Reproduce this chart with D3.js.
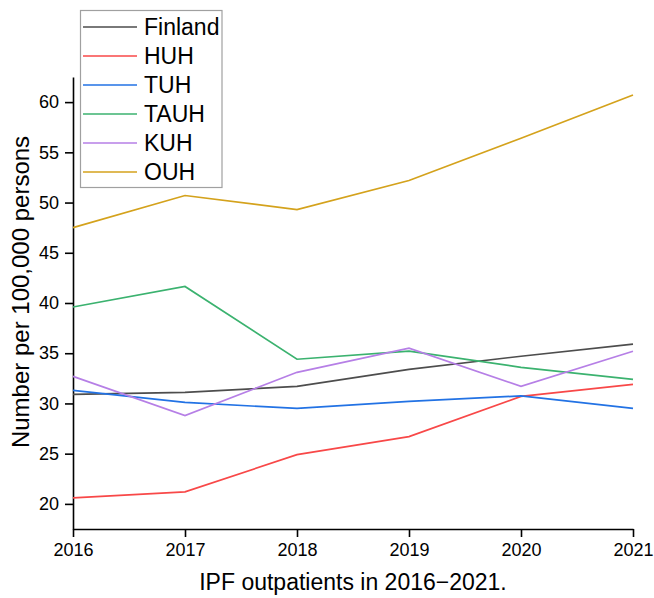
<!DOCTYPE html>
<html>
<head>
<meta charset="utf-8">
<script src="https://cdn.jsdelivr.net/npm/d3@7"></script>
<style>
  body { margin: 0; background: #fff; }
  svg { display: block; font-family: 'Liberation Sans', Arial, sans-serif; }
</style>
</head>
<body>
<svg id="chart" width="654" height="598"></svg>
<script>
const years = [2016, 2017, 2018, 2019, 2020, 2021];
const yTicks = [20, 25, 30, 35, 40, 45, 50, 55, 60];

const finland = [30.9, 31.1, 31.7, 33.4, 34.7, 35.9];
const huh = [20.6, 21.2, 24.9, 26.7, 30.7, 31.9];
const tuh = [31.3, 30.1, 29.5, 30.2, 30.75, 29.5];
const tauh = [39.6, 41.65, 34.4, 35.2, 33.6, 32.4];
const kuh = [32.7, 28.8, 33.1, 35.5, 31.7, 35.2];
const ouh = [47.5, 50.7, 49.3, 52.2, 56.4, 60.7];

const seriesNames = ['Finland', 'HUH', 'TUH', 'TAUH', 'KUH', 'OUH'];
const seriesValues = [finland, huh, tuh, tauh, kuh, ouh];
const seriesColors = ['#4d4d4d', '#f84848', '#2272e4', '#3bb26f', '#b67fe6', '#d4a21c'];

const svg = d3.select('#chart');
const margin = { left: 73, right: 21, top: 77, bottom: 69 };
const width = 654 - margin.left - margin.right;
const height = 598 - margin.top - margin.bottom;

const x = d3.scaleLinear().domain([2016, 2021]).range([0, width]);
const y = d3.scaleLinear().domain([17.5, 62.5]).range([height, 0]);

const chart = svg.append('g')
  .attr('transform', `translate(${margin.left}, ${margin.top})`);

const xAxis = chart.append('g')
  .attr('transform', `translate(0, ${height})`)
  .call(d3.axisBottom(x).tickValues(years).tickFormat(d3.format('d'))
    .tickSize(8).tickSizeOuter(0).tickPadding(6));

const yAxis = chart.append('g')
  .call(d3.axisLeft(y).tickValues(yTicks).tickSize(8).tickSizeOuter(0).tickPadding(6));

[xAxis, yAxis].forEach((g) => {
  g.select('.domain').attr('stroke', '#000').attr('stroke-width', 1.6);
  g.selectAll('.tick line').attr('stroke', '#000').attr('stroke-width', 1.6);
  g.selectAll('text').attr('fill', '#000').style('font-size', '18px')
    .style('font-family', 'Liberation Sans, Arial, sans-serif');
});

const line = d3.line()
  .x((d, i) => x(years[i]))
  .y((d) => y(d));

chart.selectAll('path.series')
  .data(seriesValues)
  .join('path')
  .attr('class', 'series')
  .attr('d', line)
  .attr('fill', 'none')
  .attr('stroke', (d, i) => seriesColors[i])
  .attr('stroke-width', 1.7);

// axis titles
svg.append('text')
  .attr('x', margin.left + width / 2)
  .attr('y', 590)
  .attr('text-anchor', 'middle')
  .style('font-size', '23px')
  .text('IPF outpatients in 2016\u22122021.');

svg.append('text')
  .attr('transform', `translate(29, ${margin.top + height / 2 - 11}) rotate(-90)`)
  .attr('text-anchor', 'middle')
  .style('font-size', '24px')
  .text('Number per 100,000 persons');

// legend
const legend = svg.append('g');
legend.append('rect')
  .attr('x', 80.5)
  .attr('y', 10.5)
  .attr('width', 141.5)
  .attr('height', 177)
  .attr('fill', '#fff')
  .attr('stroke', '#a0a0a0')
  .attr('stroke-width', 1.2);

const rows = legend.selectAll('g.row')
  .data(seriesNames)
  .join('g')
  .attr('class', 'row')
  .attr('transform', (d, i) => `translate(0, ${27 + i * 29})`);

rows.append('line')
  .attr('x1', 83)
  .attr('x2', 137)
  .attr('stroke', (d, i) => seriesColors[i])
  .attr('stroke-width', 1.7);

rows.append('text')
  .attr('x', 144)
  .attr('dy', '0.36em')
  .style('font-size', '23px')
  .text((d) => d);
</script>
</body>
</html>
